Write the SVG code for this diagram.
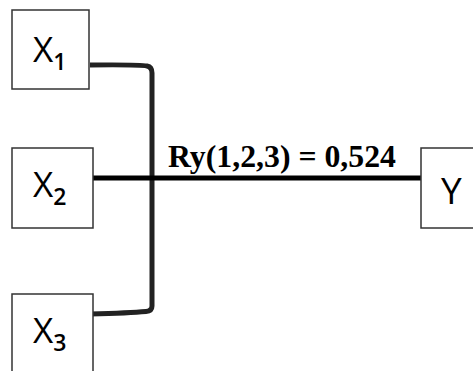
<svg xmlns="http://www.w3.org/2000/svg" width="473" height="371" viewBox="0 0 473 371">
<style>
.box{fill:#fff;stroke:#333;stroke-width:1.5}
.lbl{font-family:"Open Sans","Noto Sans",sans-serif;font-size:35px;fill:#000}
.sub{font-size:23px;font-weight:600}
.conn{fill:none;stroke:#222;stroke-width:5}
.main{fill:none;stroke:#000;stroke-width:5}
.eq{font-family:"Liberation Serif","Times New Roman",serif;font-weight:bold;font-size:32px;fill:#000}
</style>
<rect width="473" height="371" fill="#fff"/>
<g id="connectors">
<path class="conn" d="M90,65 Q140,64.5 147,66 Q152,67 152,73 L152,306 Q152,311 146,311.5 Q130,313 90,314"/>
<path class="main" d="M91,178 L421,178"/>
<text class="eq" x="168" y="167" textLength="228" lengthAdjust="spacingAndGlyphs">Ry(1,2,3) = 0,524</text>
</g>
<g id="x1">
<rect class="box" x="12" y="10" width="77" height="79"/>
<text class="lbl" x="33" y="62">X<tspan class="sub" dy="8">1</tspan></text>
</g>
<g id="x2">
<rect class="box" x="12" y="148" width="81" height="80"/>
<text class="lbl" x="33" y="197">X<tspan class="sub" dy="8">2</tspan></text>
</g>
<g id="x3">
<rect class="box" x="12" y="294" width="81" height="90"/>
<text class="lbl" x="33" y="343">X<tspan class="sub" dy="8">3</tspan></text>
</g>
<g id="y">
<rect class="box" x="421" y="148" width="60" height="80"/>
<text class="lbl" x="441" y="204" style="font-size:37px">Y</text>
</g>
</svg>
